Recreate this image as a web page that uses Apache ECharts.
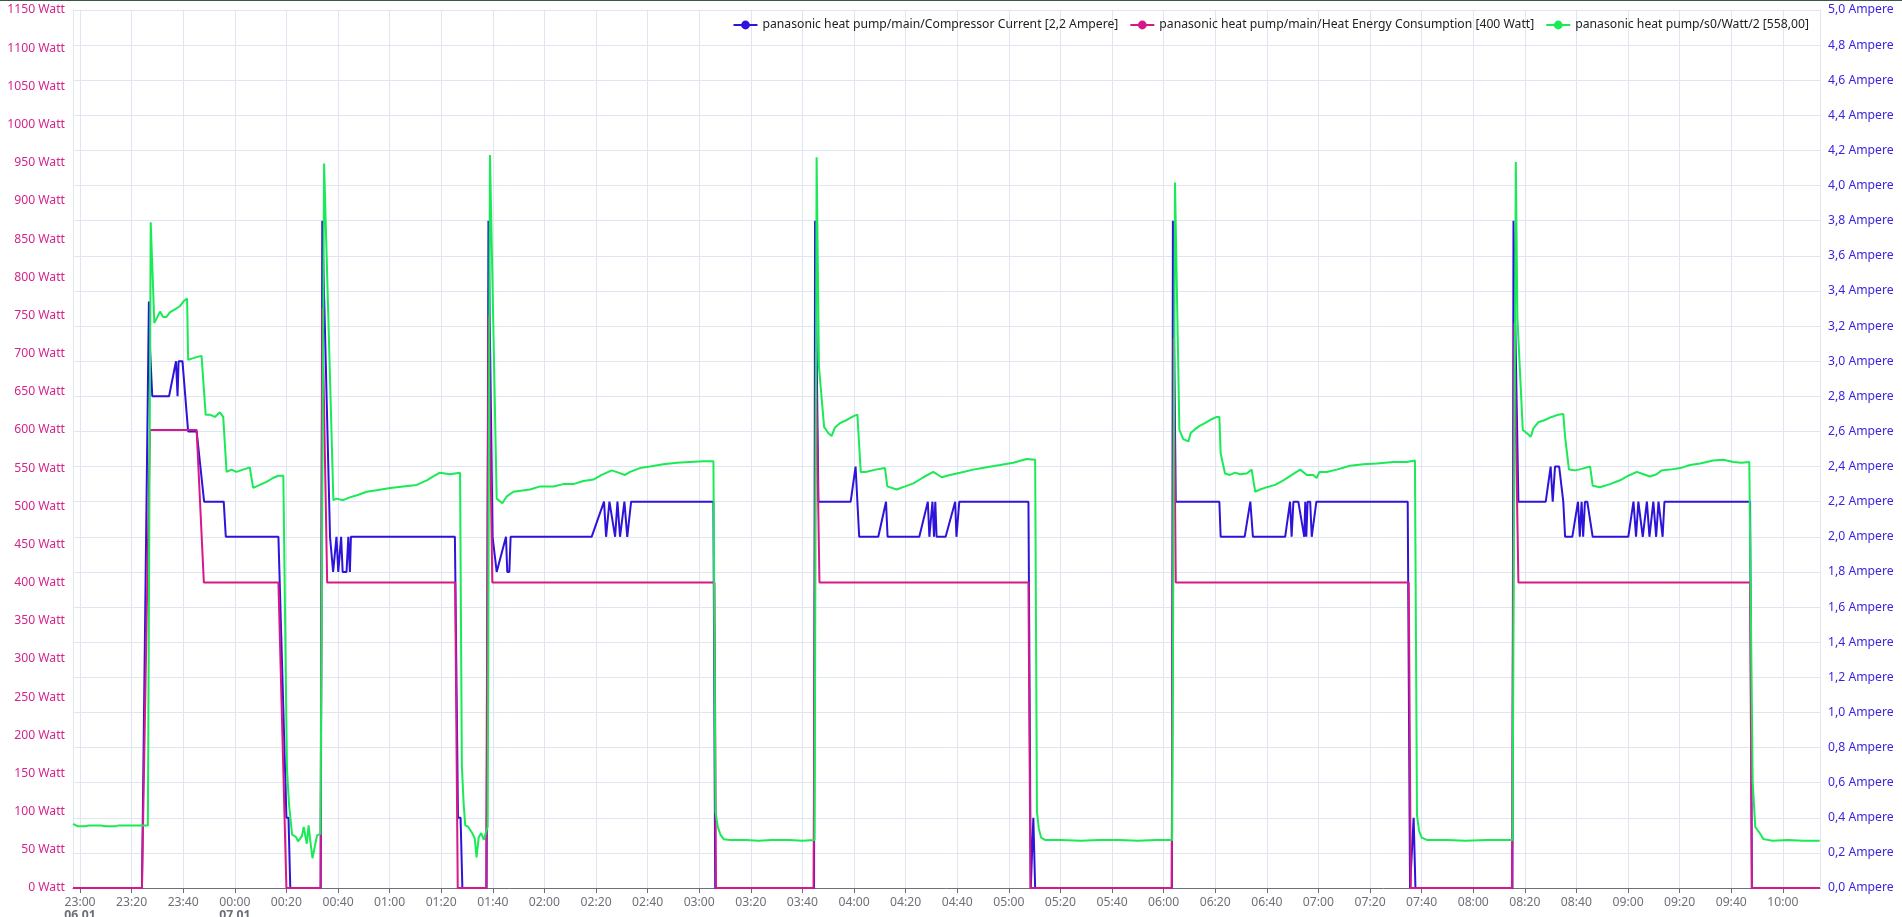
<!DOCTYPE html>
<html>
<head>
<meta charset="utf-8">
<script src="https://cdn.jsdelivr.net/npm/echarts@6/dist/echarts.min.js"></script>
<style>
html,body{margin:0;padding:0;background:#fff;}
#topline{position:absolute;left:0;top:0;width:1902px;height:1px;background:#3b5546;z-index:5;}
#chart{position:absolute;left:0;top:0;width:1902px;height:917px;}
</style>
</head>
<body>
<div id="topline"></div>
<div id="chart"></div>
<script>
// time values are minutes after 06.01 23:00
const seriesNames = [
  'panasonic heat pump/main/Compressor Current [2,2 Ampere]',
  'panasonic heat pump/main/Heat Energy Consumption [400 Watt]',
  'panasonic heat pump/s0/Watt/2 [558,00]'
];
const axisStartMin = -2.72;
const axisEndMin = 674.4;
const dateLabels = { '06.01': 0, '07.01': 60 };

const compressorCurrent = [
  [-2.72,0],[24,0],[26.7,3.34],[27.2,3.05],[28,2.8],[34.5,2.8],[37.2,3.0],[37.8,2.8],[38.2,3.0],[39.7,3.0],[41.9,2.6],[45.2,2.6],[48.1,2.2],[55.7,2.2],[56.5,2.0],[76.9,2.0],[80,0.4],[80.8,0.4],[81.5,0],
  [93.3,0],[93.9,3.8],[96.9,2.0],[98.1,1.8],[99.4,2.0],[100.1,1.8],[101.2,2.0],[101.8,1.8],[103.3,1.8],[104,2.0],[104.6,1.8],[105,2.0],[145.3,2.0],[146.5,0.4],[147.5,0.4],[148.2,0],
  [157.6,0],[158.3,3.8],[159.9,2.0],[161.5,1.8],[165.1,2.0],[165.6,1.8],[166.4,1.8],[166.9,2.0],[198.3,2.0],[203.1,2.2],[203.9,2.0],[205.2,2.2],[207.4,2.0],[208.3,2.2],[209.3,2.0],[211,2.2],[212.1,2.0],[213.6,2.2],[245.5,2.2],[246.2,0],
  [284.5,0],[284.9,3.8],[286.2,2.2],[298.7,2.2],[300.6,2.4],[302,2.0],[309.4,2.0],[312.4,2.2],[313,2.0],[325.3,2.0],[328.6,2.2],[329.2,2.0],[330.4,2.2],[331,2.0],[331.5,2.2],[332,2.0],[335.5,2.0],[339.2,2.2],[339.7,2.0],[340.8,2.2],[367.6,2.2],[368.5,0],[369.5,0.4],[370.2,0],
  [423.2,0],[423.6,3.8],[424.7,2.2],[441.6,2.2],[442.1,2.0],[451.4,2.0],[453.6,2.2],[454.6,2.0],[467.1,2.0],[469,2.2],[469.6,2.0],[470.3,2.2],[472.2,2.2],[474.5,2.0],[474.9,2.2],[475.3,2.0],[475.8,2.2],[476.8,2.2],[477.4,2.0],[479.2,2.2],[514.6,2.2],[515.5,0],[516.9,0.4],[517.6,0],
  [555.2,0],[555.6,3.8],[557.5,2.2],[568.1,2.2],[570,2.4],[570.8,2.2],[571.7,2.4],[573.3,2.4],[574.9,2.2],[575.6,2.0],[578.4,2.0],[580.6,2.2],[581.3,2.0],[582,2.2],[582.6,2.0],[583.3,2.2],[584.2,2.2],[586.3,2.0],[600.1,2.0],[602.1,2.2],[603.1,2.0],[604,2.2],[605.7,2.0],[607.3,2.2],[608.3,2.0],[609.8,2.2],[610.9,2.0],[611.8,2.2],[613.4,2.0],[614.1,2.2],[647.3,2.2],[648,0],[674.3,0]
];

const heatEnergy = [
  [-2.72,0],[24,0],[27.1,600],[45.2,600],[48,400],[76.9,400],[80,0],
  [93.2,0],[93.9,760],[95.8,400],[145.4,400],[146.4,0],
  [157.4,0],[158.3,750],[159.8,400],[245.9,400],[246.5,0],
  [284.3,0],[285.2,700],[286.6,400],[367.6,400],[368.4,0],
  [423.1,0],[423.9,720],[424.7,400],[515,400],[515.8,0],
  [555,0],[555.9,740],[557.5,400],[647.3,400],[648,0],[674.3,0]
];

const s0Watt = [
  [-2.72,84],[-2,82],[-1,81],[2,81],[3.5,82],[8,82],[10,81],[14,81],[15,82],[20,82],[26.3,82],
  [27.4,872],[28.8,740],[30,748],[31,755],[32.2,748],[33.5,748],[34.8,754],[36.8,758],[38.7,762],[40.3,769],[41.5,772],
  [41.9,692],[43.9,694],[45.8,696],[47.1,697],
  [48.7,620],[50.3,620],[52.3,617],[54.2,623],[55.5,617],
  [56.8,545],[58.7,548],[60.6,545],[63.2,548],[65.8,551],
  [67.1,524],[69.7,528],[72.3,532],[74.8,537],[76.8,540],[78.8,540],
  [80.2,157],[81,110],[82.2,70],[83.7,67],[84.5,61],[86,68],[86.7,80],[87.4,80],[87.9,58],[88.6,82],[89.2,63],[90.1,39],[91.1,56],[91.9,69],[93.2,71],
  [94.6,949],[98.2,508],[99.4,510],[102,508],[104,511],[107.9,515],[111.1,519],[115,521],[120.2,524],[125.3,526],[130.5,528],[134.4,534],[136.9,539],[139.5,544],[143.4,542],[147.3,544],
  [148,160],[148.7,110],[149.3,82],[150.5,80],[152,72],[153,65],[153.7,40],[154.5,66],[155.5,72],[156.5,63],[157.5,75],[158,80],
  [158.9,960],[161.5,510],[163.7,504],[165.4,513],[168,519],[174.4,522],[178.3,526],[183.5,526],[187.3,529],[191.2,529],[195.1,533],[199,535],[202.2,541],[206.1,547],[208.7,544],[211.2,541],[213.2,545],[217,550],[220.9,552],[226.1,555],[231.3,557],[236.4,558],[241.6,559],[245.5,559],
  [246.3,100],[247.2,80],[248.2,70],[249.5,64],[252,63],[258,63],[263,62],[268,63],[275,63],[280,62],[284.7,63],
  [285.5,957],[286.4,683],[288.4,604],[290,596],[291.3,592],[292.6,603],[294.6,609],[297.2,613],[299.8,618],[301.3,620],[302.6,545],[304.5,545],[308.4,548],[312,550],[312.9,526],[316.5,522],[319.8,526],[323,530],[326.9,538],[330.7,545],[334,538],[337.2,541],[341.1,544],[346.2,548],[351.4,551],[356.6,554],[361.7,557],[366.9,562],[370.2,561],
  [370.9,100],[371.6,78],[372.5,66],[374,63],[380,63],[388,62],[395,63],[403,63],[410,62],[417,63],[423.3,63],
  [424.4,924],[426.1,600],[427.6,588],[429.6,585],[430.5,596],[432.2,601],[433.8,605],[436,609],[438.6,614],[440.6,617],[441.6,617],[442.1,569],[443.8,543],[445.7,541],[447.7,544],[449.6,542],[452.2,543],[454.1,548],[455.5,519],[457.4,522],[460,525],[463.2,528],[466.4,534],[469.7,541],[472.9,548],[475.5,541],[478,541],[479.3,537],[480.4,545],[483.2,545],[487.1,548],[492.2,553],[497.4,555],[502.6,556],[509,558],[514.2,558],[517.4,560],
  [518.2,95],[519,75],[520,66],[522,63],[530,63],[537,62],[545,63],[550,63],[555.2,63],
  [556.5,951],[557.1,748],[559.2,600],[560.7,596],[562.3,591],[563.3,602],[565.2,610],[567.8,613],[570.4,617],[573,620],[574.9,621],[575.6,591],[577.1,548],[579.5,547],[582,549],[585.3,552],[586.3,527],[589.1,525],[593,529],[596.9,534],[600.1,540],[603.4,545],[606,542],[608.5,539],[611.1,542],[613,547],[616.3,548],[620.2,550],[624,554],[627.9,556],[633,560],[636.9,561],[640.8,558],[644,557],[647,558],
  [648.3,140],[649.3,80],[651,72],[652.5,64],[656,62],[662,63],[668,62],[674.3,62]
];

const BASE = Date.UTC(2024, 0, 6, 23, 0, 0);
const MIN = 60000;
function toTime(arr){ return arr.map(p => [BASE + p[0]*MIN, p[1]]); }
function pad(n){ return (n < 10 ? '0' : '') + n; }

const chart = echarts.init(document.getElementById('chart'));
const FONT = 'Noto Sans';
chart.setOption({
  animation: false,
  useUTC: true,
  textStyle: { fontFamily: FONT },
  grid: { left: 73, right: 82, top: 10, bottom: 29, containLabel: false, outerBoundsMode: 'none' },
  legend: {
    top: 14, right: 88,
    itemWidth: 24, itemHeight: 11, itemGap: 11,
    textStyle: { color: '#222', fontSize: 12.2, fontFamily: FONT },
    data: seriesNames
  },
  xAxis: {
    type: 'time',
    min: BASE + axisStartMin*MIN,
    max: BASE + axisEndMin*MIN,
    minInterval: 21*MIN,
    maxInterval: 21*MIN,
    splitNumber: 33,
    axisLine: { show: true, lineStyle: { color: '#6e7079' } },
    axisTick: { show: true, length: 5, lineStyle: { color: '#6e7079' } },
    splitLine: { show: true, lineStyle: { color: '#e0e6f1' } },
    axisLabel: {
      color: '#6e7079', fontSize: 12.2, fontFamily: FONT, margin: 8, lineHeight: 13,
      hideOverlap: false, showMinLabel: false, showMaxLabel: false,
      formatter: function (val) {
        const d = new Date(val);
        const h = d.getUTCHours(), m = d.getUTCMinutes();
        let s = pad(h) + ':' + pad(m);
        for (const k in dateLabels) {
          if (Math.abs(val - (BASE + dateLabels[k]*MIN)) < 1000) s += '\n{d|' + k + '}';
        }
        return s;
      },
      rich: { d: { fontWeight: 'bold', color: '#6e7079', fontSize: 12.2, fontFamily: FONT, lineHeight: 13 } }
    }
  },
  yAxis: [
    {
      type: 'value', min: 0, max: 1150, interval: 50, position: 'left',
      axisLine: { show: true, lineStyle: { color: '#e0e6f1' } },
      axisTick: { show: false },
      splitLine: { show: false },
      axisLabel: { color: '#d4258c', fontSize: 12.2, fontFamily: FONT, margin: 8, formatter: v => v + ' Watt' }
    },
    {
      type: 'value', min: 0, max: 5, interval: 0.2, position: 'right',
      axisLine: { show: true, lineStyle: { color: '#e0e6f1' } },
      axisTick: { show: false },
      splitLine: { show: true, lineStyle: { color: '#e0e6f1' } },
      axisLabel: { color: '#3a24e0', fontSize: 12.2, fontFamily: FONT, margin: 8,
        formatter: v => v.toFixed(1).replace('.', ',') + ' Ampere' }
    }
  ],
  series: [
    { name: seriesNames[0], type: 'line', yAxisIndex: 1, data: toTime(compressorCurrent),
      symbol: 'circle', symbolSize: 10, showSymbol: false, color: '#2e14da',
      lineStyle: { width: 2, color: '#2e14da' } },
    { name: seriesNames[1], type: 'line', yAxisIndex: 0, data: toTime(heatEnergy),
      symbol: 'circle', symbolSize: 10, showSymbol: false, color: '#d6198a',
      lineStyle: { width: 2, color: '#d6198a' } },
    { name: seriesNames[2], type: 'line', yAxisIndex: 0, data: toTime(s0Watt),
      symbol: 'circle', symbolSize: 10, showSymbol: false, color: '#1aea55',
      lineStyle: { width: 2, color: '#1aea55' } }
  ]
});
</script>
</body>
</html>
